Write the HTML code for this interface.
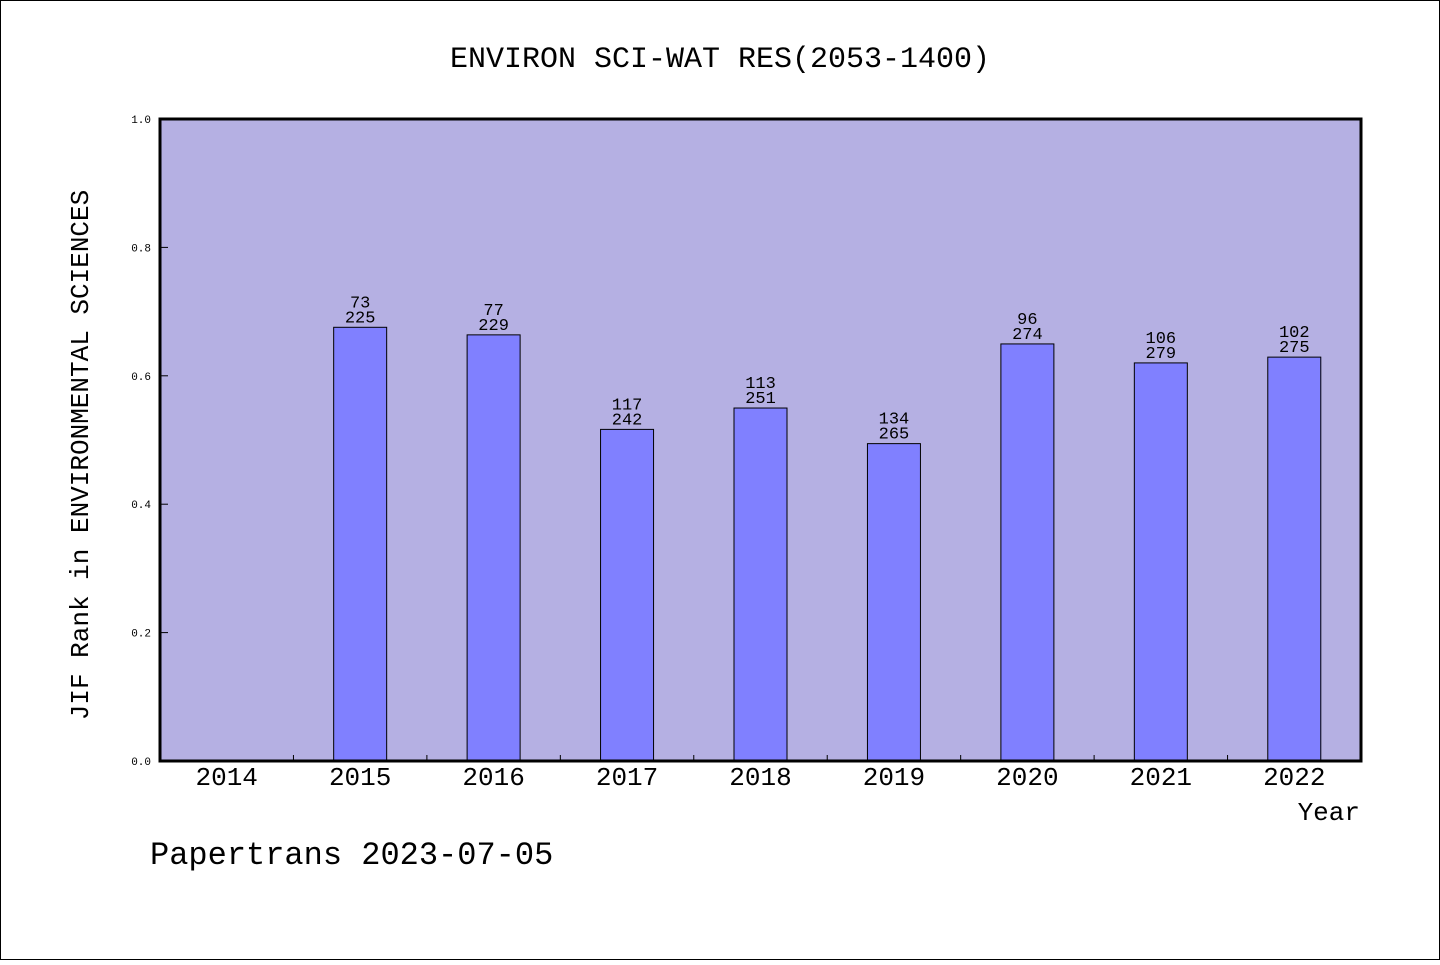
<!DOCTYPE html>
<html><head><meta charset="utf-8"><style>
html,body{margin:0;padding:0;background:#fff;}
svg text{font-family:"Liberation Mono","WenQuanYi Zen Hei",monospace;fill:#000;}
</style></head><body>
<svg id="chart" width="1440" height="960" xmlns="http://www.w3.org/2000/svg">
<rect x="0.5" y="0.5" width="1439" height="959" fill="#fff" stroke="#000" stroke-width="1"/>
<text x="720" y="67" font-size="30" text-anchor="middle">ENVIRON SCI-WAT RES(2053-1400)</text>
<rect x="160" y="119" width="1201" height="642" fill="#b5b0e3"/>
<g id="bars"></g>
<g id="axes"></g>
<rect x="160" y="119" width="1201" height="642" fill="none" stroke="#000" stroke-width="3"/>
<text transform="translate(88,455) rotate(-90)" font-size="26" text-anchor="middle">JIF Rank in ENVIRONMENTAL SCIENCES</text>
<text x="1360" y="820" font-size="26" text-anchor="end">Year</text>
<text x="150" y="864" font-size="32">Papertrans 2023-07-05</text>
</svg>
<script>
const categories = ["2014","2015","2016","2017","2018","2019","2020","2021","2022"];
const ranks = [null,73,77,117,113,134,96,106,102];
const totals = [null,225,229,242,251,265,274,279,275];
const yTicks = [0,0.2,0.4,0.6,0.8,1.0];
const yTickLabels = ["0.0","0.2","0.4","0.6","0.8","1.0"];

const X0=160,X1=1361,Y0=761,Y1=119;
const step=(X1-X0)/categories.length;
const xc=i=>X0+step*(i+0.5);
const y=v=>Y0-(Y0-Y1)*v;
const NS="http://www.w3.org/2000/svg";
function mk(tag,attrs,parent){const e=document.createElementNS(NS,tag);for(const k in attrs)e.setAttribute(k,attrs[k]);parent.appendChild(e);return e;}
const bars=document.getElementById('bars'),axes=document.getElementById('axes');
categories.forEach((c,i)=>{
  if(ranks[i]!=null){
    const v=1-ranks[i]/totals[i];
    const r=mk('rect',{x:xc(i)-26.5,y:y(v),width:53,height:Y0-y(v),fill:'#8080ff',stroke:'#000','stroke-width':1},bars);
    
    
    const t1=mk('text',{x:xc(i),y:y(v)-20,'font-size':17,'text-anchor':'middle'},bars);
    t1.textContent=ranks[i];
    
    
    const t2=mk('text',{x:xc(i),y:y(v)-5,'font-size':17,'text-anchor':'middle'},bars);
    t2.textContent=totals[i];
    
    
  }
  const lbl=mk('text',{x:xc(i),y:785,'font-size':26,'text-anchor':'middle'},axes);
  lbl.textContent=c;
  
  
  if(i>0){
    const tk=mk('line',{x1:X0+step*i,x2:X0+step*i,y1:Y0,y2:Y0-6,stroke:'#000','stroke-width':1},axes);
    
    
  }
});
yTicks.forEach((v,i)=>{
  const tk=mk('line',{x1:X0,x2:X0+8,y1:y(v),y2:y(v),stroke:'#000','stroke-width':1},axes);
  
  
  const t=mk('text',{x:151,y:y(v)+4,'font-size':11,'text-anchor':'end'},axes);
  t.textContent=yTickLabels[i];
  
  
});
</script>
</body></html>
